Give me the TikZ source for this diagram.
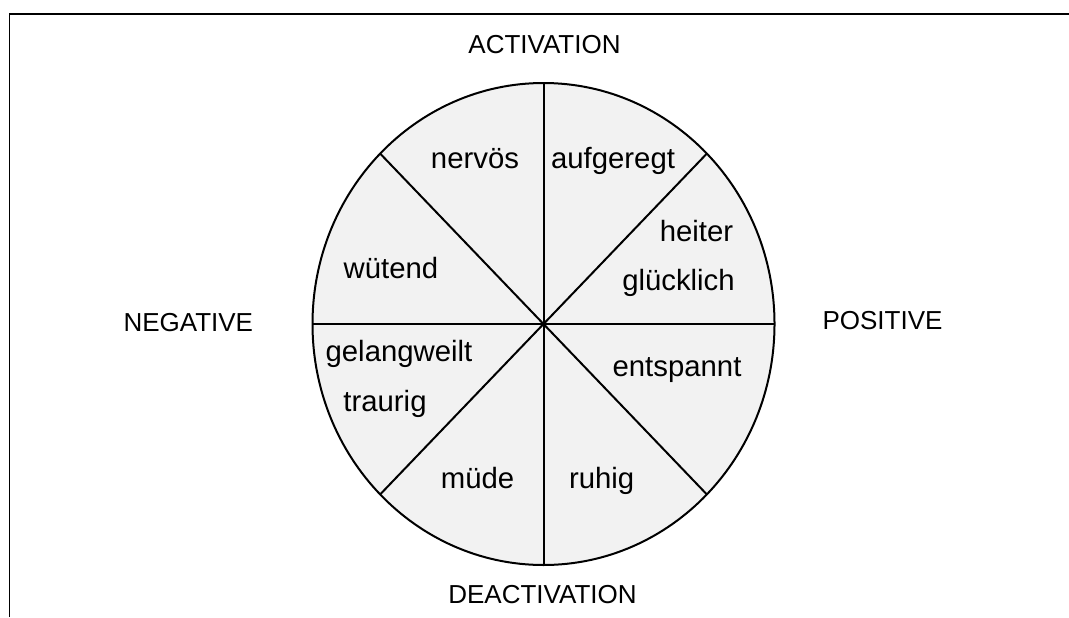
\documentclass[tikz,border=0pt]{standalone}
\usepackage{fontspec}
\setmainfont{Liberation Sans}
\definecolor{wheelfill}{RGB}{242,242,242}
\begin{document}
\begin{tikzpicture}[x=0.75pt,y=-0.75pt,axis label/.style={font=\fontsize{19.5}{23}\selectfont, inner sep=0pt, anchor=base},mood label/.style={font=\fontsize{22}{26}\selectfont, inner sep=0pt, anchor=base},wheel line/.style={line width=1.5pt, black},frame line/.style={line width=0.9pt, black}]%
\path[use as bounding box] (0,0) rectangle (1069,617);%
\draw[frame line] (9.5,617) -- (9.5,14) -- (1069,14);%
  % Wheel%
\coordinate (c) at (543.5,324);%
\draw[wheel line, fill=wheelfill] (c) ellipse [x radius=231, y radius=241];%
\coordinate (e0) at ([shift={(0:231 and 241)}]c);%
\coordinate (e45) at ([shift={(45:231 and 241)}]c);%
\coordinate (e90) at ([shift={(90:231 and 241)}]c);%
\coordinate (e135) at ([shift={(135:231 and 241)}]c);%
\coordinate (e180) at ([shift={(180:231 and 241)}]c);%
\coordinate (e225) at ([shift={(225:231 and 241)}]c);%
\coordinate (e270) at ([shift={(270:231 and 241)}]c);%
\coordinate (e315) at ([shift={(315:231 and 241)}]c);%
\draw[wheel line] (e0) -- (e180);%
\draw[wheel line] (e90) -- (e270);%
\draw[wheel line] (e45) -- (e225);%
\draw[wheel line] (e135) -- (e315);%
  % Axes%
\node[axis label] (act) at (544.5,53.3) {ACTIVATION};%
\node[axis label] (deact) at (542.5,603.3) {DEACTIVATION};%
\node[axis label] (neg) at (188.3,331.7) {NEGATIVE};%
\node[axis label] (pos) at (882.5,329.3) {POSITIVE};%
  % Moods%
\node[mood label] (nervoes) at (475,168.3) {nervös};%
\node[mood label] (aufgeregt) at (613,168.3) {aufgeregt};%
\node[mood label, anchor=base east] (heiter) at (733.5,241.7) {heiter};%
\node[mood label, anchor=base east] (gluecklich) at (735,290.7) {glücklich};%
\node[mood label] (wuetend) at (391,278.3) {wütend};%
\node[mood label] (gelangweilt) at (399,361.7) {gelangweilt};%
\node[mood label] (traurig) at (385,411.7) {traurig};%
\node[mood label] (entspannt) at (677,376.7) {entspannt};%
\node[mood label] (muede) at (477.5,488.3) {müde};%
\node[mood label] (ruhig) at (601.7,488.3) {ruhig};%
\end{tikzpicture}
\end{document}
